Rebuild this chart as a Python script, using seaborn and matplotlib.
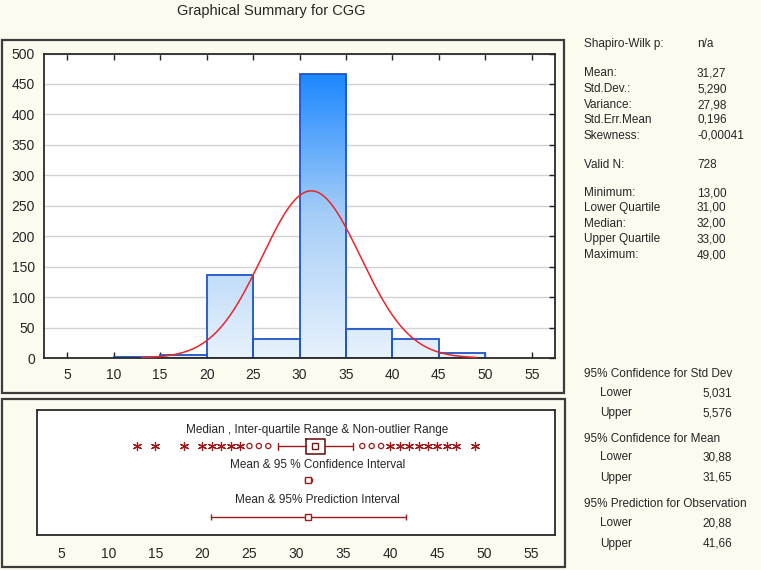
import numpy as np
import matplotlib
matplotlib.use('Agg')
import matplotlib.pyplot as plt
import seaborn as sns
from matplotlib.colors import LinearSegmentedColormap
from matplotlib.patches import Rectangle

# histogram of CGG, counts
bin_edges = [10, 15, 20, 25, 30, 35, 40, 45, 50]
bin_counts = [2, 5, 137, 31, 466, 48, 31, 8]

# summary statistics
n_valid = 728
mean_cgg = 31.27
sd_cgg = 5.290
min_cgg, max_cgg = 13.0, 49.0
q1_cgg, median_cgg, q3_cgg = 31.0, 32.0, 33.0
whisker_lo, whisker_hi = 28.0, 36.0
outliers = [25, 26, 27, 37, 38, 39]
extremes = [13, 15, 18, 20, 21, 22, 23, 24, 40, 41, 42, 43, 44, 45, 46, 47, 49]
ci_mean = [30.88, 31.65]
pi_obs = [20.88, 41.66]

x_ticks = [5, 10, 15, 20, 25, 30, 35, 40, 45, 50, 55]
y_ticks = [0, 50, 100, 150, 200, 250, 300, 350, 400, 450, 500]

stat_labels = ["Shapiro-Wilk p:", "Mean:", "Std.Dev.:", "Variance:", "Std.Err.Mean",
               "Skewness:", "Valid N:", "Minimum:", "Lower Quartile", "Median:",
               "Upper Quartile", "Maximum:"]
stat_values = ["n/a", "31,27", "5,290", "27,98", "0,196", "-0,00041", "728",
               "13,00", "31,00", "32,00", "33,00", "49,00"]
ci_headers = ["95% Confidence for Std Dev", "95% Confidence for Mean",
              "95% Prediction for Observation"]
ci_values = [["5,031", "5,576"], ["30,88", "31,65"], ["20,88", "41,66"]]

W, H = 761, 570
bg = '#FDFAEF'
dark_red = '#9E1B1B'
bar_edge = '#1F55C8'

sns.set_style('white')
plt.rcParams['font.family'] = ['Liberation Sans', 'DejaVu Sans']

fig = plt.figure(figsize=(W / 100, H / 100), dpi=100, facecolor=bg)


def fx(px):
    return px / W


def fy(py):
    return 1 - py / H


# panel frames
for x0, y0, x1, y1 in [(2, 39.5, 564, 393), (2, 398.5, 565, 567)]:
    fig.patches.append(Rectangle((fx(x0), fy(y1)), fx(x1 - x0), (y1 - y0) / H,
                                 transform=fig.transFigure, fill=False,
                                 lw=1.6, ec='#3C3C3C'))

fig.text(fx(271), fy(11), 'Graphical Summary for CGG', ha='center', va='center',
         fontsize=10.5)

# ---- histogram panel ----
ax = fig.add_axes([fx(44), fy(358), fx(555 - 44), (358 - 53.5) / H])
ax.set_facecolor('white')
bin_mids = [(a + b) / 2 for a, b in zip(bin_edges[:-1], bin_edges[1:])]
sns.histplot(x=bin_mids, weights=bin_counts, bins=bin_edges, ax=ax,
             edgecolor=bar_edge, linewidth=1.3, alpha=1, zorder=2)

cmap = LinearSegmentedColormap.from_list('bluefade', ['#E8F2FC', '#A6CEF8', '#1A86FF'])
grad = np.linspace(0, 1, 256).reshape(-1, 1)
for bar in ax.patches:
    bar.set_facecolor('none')
    x0 = bar.get_x()
    im = ax.imshow(grad, extent=[x0, x0 + bar.get_width(), 0, 470], origin='lower',
                   aspect='auto', cmap=cmap, zorder=1.5)
    im.set_clip_path(bar)

# fitted normal curve from the summary stats
xs = np.linspace(min_cgg, max_cgg, 300)
bw = bin_edges[1] - bin_edges[0]
ys = n_valid * bw / (sd_cgg * np.sqrt(2 * np.pi)) * np.exp(-0.5 * ((xs - mean_cgg) / sd_cgg) ** 2)
sns.lineplot(x=xs, y=ys, ax=ax, color='#E8262A', lw=1.1, zorder=3)

ax.set_xlim(2.5, 57.5)
ax.set_ylim(0, 500)
ax.set_xticks(x_ticks)
ax.set_yticks(y_ticks)
ax.set_xlabel('')
ax.set_ylabel('')
ax.yaxis.grid(True, color='#D2D2D2', lw=1)
ax.set_axisbelow(True)
ax.tick_params(axis='both', direction='in', length=4, width=1, color='#222222',
               top=True, right=True, left=False, bottom=True, labelsize=10)
ax.tick_params(axis='x', pad=7)
ax.tick_params(axis='y', pad=6.5)
for s in ax.spines.values():
    s.set_color('#2A2A2A')
    s.set_linewidth(1.3)

# ---- box / interval panel ----
bx = fig.add_axes([fx(37), fy(535), fx(555 - 37), (535 - 410) / H])
bx.set_facecolor('white')
bx.set_xlim(2.4, 57.5)
bx.set_ylim(535, 410)
row_txt1, row_box, row_txt2, row_ci, row_txt3, row_pi = 430, 446, 465, 480, 500, 517
txt_x = 32.2

bx.text(txt_x, row_txt1, 'Median , Inter-quartile Range & Non-outlier Range',
        ha='center', va='center', fontsize=8.5)
bx.text(txt_x, row_txt2, 'Mean & 95 % Confidence Interval', ha='center', va='center', fontsize=8.5)
bx.text(txt_x, row_txt3, 'Mean & 95% Prediction Interval', ha='center', va='center', fontsize=8.5)

box_stats = [dict(med=median_cgg, q1=q1_cgg, q3=q3_cgg, whislo=whisker_lo,
                  whishi=whisker_hi, fliers=[])]
bx.bxp(box_stats, positions=[row_box], widths=15, orientation='horizontal',
       showfliers=False, capwidths=7, manage_ticks=False,
       boxprops=dict(color='#6E1A1A', lw=1.2),
       whiskerprops=dict(color=dark_red, lw=1),
       capprops=dict(color=dark_red, lw=1),
       medianprops=dict(lw=0))
bx.plot([median_cgg], [row_box], marker='s', ms=4, mfc='white', mec='#6E1A1A',
        mew=1, ls='none')

bx.scatter(outliers, [row_box] * len(outliers), marker='o', s=14,
           facecolors='none', edgecolors=dark_red, linewidths=0.9, zorder=3)
sns.scatterplot(x=extremes, y=[row_box] * len(extremes), ax=bx, marker=(6, 2, 0),
                s=34, color=dark_red, linewidth=0.9, zorder=3)

bx.errorbar([mean_cgg], [row_ci], xerr=[[mean_cgg - ci_mean[0]], [ci_mean[1] - mean_cgg]],
            fmt='s', ms=4, mfc='white', mec=dark_red, ecolor=dark_red, capsize=1.5, lw=1)
bx.errorbar([mean_cgg], [row_pi], xerr=[[mean_cgg - pi_obs[0]], [pi_obs[1] - mean_cgg]],
            fmt='s', ms=4, mfc='white', mec=dark_red, ecolor=dark_red, capsize=2, lw=1)

bx.set_xticks(x_ticks)
bx.set_yticks([])
bx.set_xlabel('')
bx.set_ylabel('')
bx.tick_params(axis='x', length=0, labelsize=10, pad=9)
for s in bx.spines.values():
    s.set_color('#2A2A2A')
    s.set_linewidth(1.3)

# ---- stats text (baseline aligned so commas don't shift rows) ----
fs = 8.5
off = 4


def stat_text(px, py, s, ha='left'):
    fig.text(fx(px), fy(py + off), s, ha=ha, va='baseline', fontsize=fs)


stat_rows_y = [43, 72.5, 88, 104, 119, 135, 164, 192, 207, 223, 238, 254]
for lab, val, py in zip(stat_labels, stat_values, stat_rows_y):
    stat_text(584, py, lab)
    stat_text(697, py, val)

ci_rows_y = [(373, 392, 412), (438, 456, 477), (503, 522, 543)]
for head, vals, (yh, yl, yu) in zip(ci_headers, ci_values, ci_rows_y):
    stat_text(584, yh, head)
    stat_text(600, yl, 'Lower')
    stat_text(600, yu, 'Upper')
    stat_text(732, yl, vals[0], ha='right')
    stat_text(732, yu, vals[1], ha='right')

fig.savefig('out.png', dpi=100, facecolor=bg)
